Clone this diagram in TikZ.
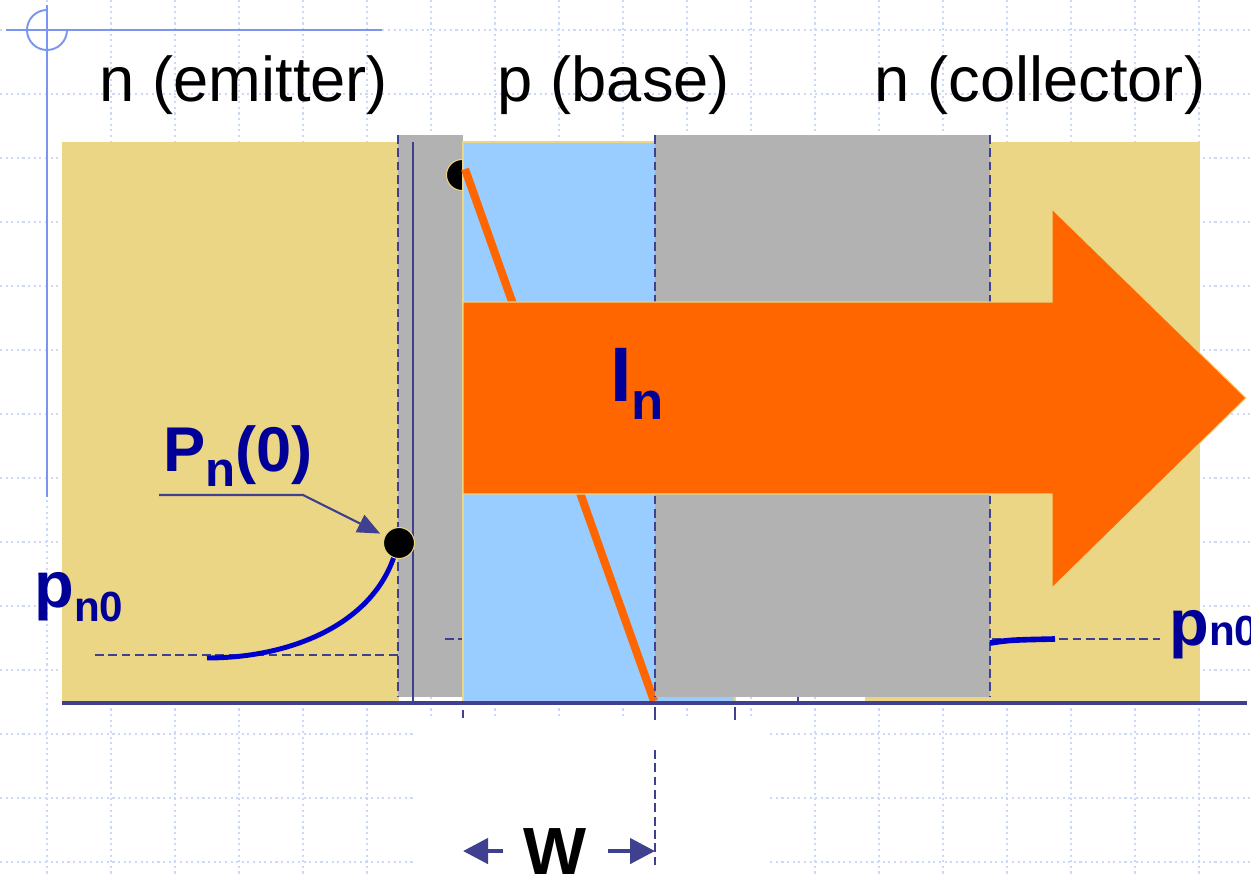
\documentclass[tikz,border=0pt]{standalone}
\usepackage{fontspec}
\setmainfont{Liberation Sans}
\usetikzlibrary{arrows.meta,calc}
\definecolor{sand}{RGB}{234,214,132}
\definecolor{depl}{RGB}{178,178,178}
\definecolor{basefill}{RGB}{153,204,255}
\definecolor{hot}{RGB}{255,102,0}
\definecolor{slate}{RGB}{64,64,144}
\definecolor{ink}{RGB}{0,0,153}
\definecolor{holes}{RGB}{0,0,204}
\definecolor{gridblue}{RGB}{204,216,248}
\definecolor{tmpl}{RGB}{122,150,240}
\newcommand{\dropsub}[3]{\raisebox{-#1}{\fontsize{#2}{#2}\selectfont #3}}

\begin{document}
\begin{tikzpicture}[x=0.02cm,y=-0.02cm,>=Latex,
    gridline/.style={gridblue,line width=0.9pt,dash pattern=on 1.2pt off 2pt},
    tmplline/.style={tmpl,line width=1.1pt},
    dashline/.style={slate,line width=1.3pt,dash pattern=on 5pt off 2.6pt},
    thinline/.style={slate,line width=0.9pt},
    dot/.style={circle,fill=black,draw=sand,line width=0.6pt,minimum size=0.62cm,inner sep=0pt},
    head/.style={font=\fontsize{36}{40}\selectfont,anchor=base,inner sep=0pt},
    lbl/.style={text=ink,font=\bfseries,anchor=base west,inner sep=0pt},
    pointer/.style={slate,line width=1.2pt,-{Triangle[length=0.45cm,width=0.38cm]}},
    wa/.style={slate,line width=2.6pt,-{Triangle[length=0.5cm,width=0.5cm]}}]
    \useasboundingbox (0,0) rectangle (1251,874);
    \foreach \gx in {47,111,...,1199} \draw[gridline] (\gx,0) -- (\gx,874);
    \foreach \gy in {30,94,...,862} \draw[gridline] (0,\gy) -- (1251,\gy);
    \draw[tmplline] (6,30) -- (382,30);
    \draw[tmplline] (47,5) -- (47,497);
    \draw[tmplline] (47,10) arc[start angle=270,end angle=0,radius=20];
    \fill[white] (413,716) rectangle (770,874);

    \fill[sand] (62,142) rectangle (399,702);
    \fill[sand] (865,142) rectangle (1200,702);
    \draw[dashline,line width=0.9pt] (95,655) -- (398,655);
    \fill[depl] (398,135) rectangle (463,697);
    \draw[thinline] (413,142) -- (413,702);
    \draw[dashline,line width=0.9pt] (445,639) -- (1160,639);
    \node[dot] (pb) at (462,175) {};
    \filldraw[fill=basefill,draw=sand,line width=0.8pt] (463,142) rectangle (735,702);
    \draw[thinline] (798,142) -- (798,702);
    \coordinate (ob) at (465,169);
    \coordinate (oe) at (654,701);
    \draw[hot,line width=4.6pt] (ob) -- (oe);
    \fill[depl] (655,135) rectangle (990,697);
    \draw[dashline] (398,135) -- (398,697);
    \draw[dashline] (655,135) -- (655,697);
    \draw[dashline] (990,135) -- (990,697);
    \draw[slate,line width=2pt] (62,703) -- (1247,703);
    \draw[thinline,line width=1.2pt] (463,710) -- (463,718);
    \draw[thinline,line width=1.3pt] (655,707) -- (655,720);
    \draw[thinline,line width=1.3pt] (735,707) -- (735,720);
    \draw[dashline] (655,750) -- (655,865);

    \filldraw[fill=hot,draw=sand,line width=0.6pt] (463,302) -- (1052,302) -- (1052,209)
        -- (1246,398) -- (1052,588) -- (1052,494) -- (463,494) -- cycle;

    \node[dot] (pe) at (399,543) {};
    \coordinate (tailL) at (207,658);
    \draw[holes,line width=2.8pt] (pe.250) .. controls (370,625) and (290,658) .. (tailL);
    \coordinate (tailR0) at (990,643);
    \coordinate (tailR) at (1055,639);
    \draw[holes,line width=3.2pt] (tailR0) .. controls (1010,640) .. (tailR);

    \node[head] (em) at (244,102) {n (emitter)};
    \node[head] (ba) at (614,102) {p (base)};
    \node[head] (co) at (1040,102) {n (collector)};

    \node[lbl] (pn) at (163,472) {\fontsize{36}{40}\selectfont P\dropsub{8.5pt}{28}{n}(0)};
    \coordinate (pt0) at (159,495);
    \coordinate (pt1) at (303,495);
    \draw[pointer,shorten >=0.1cm] (pt0) -- (pt1) -- (pe);
    \node[lbl] (pnl) at (34,607) {\fontsize{37}{40}\selectfont p\dropsub{8.5pt}{24}{n0}};
    \node[lbl] (pnr) at (1169,645) {\fontsize{37}{40}\selectfont p\dropsub{0pt}{24}{n0}};
    \node[lbl] (in) at (610,402) {\fontsize{44}{48}\selectfont I\dropsub{10pt}{30}{n}};

    \node[anchor=base,inner sep=0pt,font=\bfseries\fontsize{38}{40}\selectfont] (w) at (555,874) {W};
    \coordinate (wl) at (463,848);
    \coordinate (wr) at (655,848);
    \draw[wa,shorten <=1.04cm] (w.center) -- (w.center -| wl);
    \draw[wa,shorten <=1.06cm] (w.center) -- (w.center -| wr);
\end{tikzpicture}
\end{document}
